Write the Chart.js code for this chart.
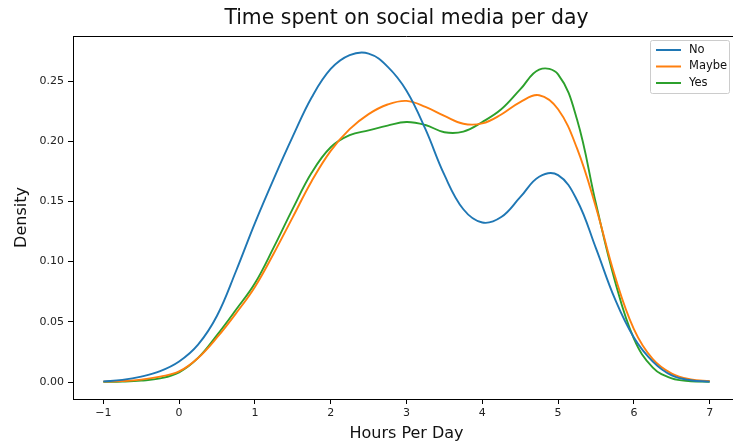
<!DOCTYPE html>
<html>
<head>
<meta charset="utf-8">
<script src="https://cdn.jsdelivr.net/npm/chart.js@4/dist/chart.umd.min.js"></script>
<style>
  html, body { margin: 0; padding: 0; background: #fff; overflow: hidden; }
  #wrap { width: 733px; height: 443px; overflow: hidden; position: relative; }
  #c { position: absolute; left: 0; top: 0; }
</style>
</head>
<body>
<div id="wrap"><canvas id="c" width="760" height="443"></canvas></div>
<script>
// Evaluation grid for the density curves (hours per day)
const hours = [-1, -0.75, -0.5, -0.25, 0, 0.25, 0.5, 0.75, 1, 1.25, 1.5, 1.75, 2, 2.25, 2.5, 2.75,
               3, 3.25, 3.5, 3.75, 4, 4.25, 4.5, 4.75, 5, 5.25, 5.5, 5.75, 6, 6.25, 6.5, 6.75, 7];

// Estimated density for each answer group
const densityNo = [0.0005, 0.0018, 0.0045, 0.009, 0.017, 0.031, 0.055, 0.092, 0.132, 0.169, 0.204, 0.2365, 0.260, 0.2715, 0.2728, 0.262,
                   0.242, 0.210, 0.172, 0.1435, 0.1325, 0.137, 0.1535, 0.1705, 0.1718, 0.151, 0.111, 0.069, 0.037, 0.017, 0.0055, 0.0015, 0.0003];
const densityMaybe = [0.0003, 0.0008, 0.002, 0.0045, 0.0088, 0.020, 0.037, 0.057, 0.079, 0.107, 0.137, 0.167, 0.192, 0.210, 0.2225, 0.2305,
                      0.2335, 0.2285, 0.221, 0.2145, 0.2148, 0.2222, 0.2325, 0.2382, 0.2265, 0.194, 0.145, 0.088, 0.044, 0.019, 0.007, 0.0022, 0.0008];
const densityYes = [0.0001, 0.0004, 0.0012, 0.003, 0.008, 0.020, 0.039, 0.060, 0.082, 0.112, 0.144, 0.174, 0.195, 0.205, 0.209, 0.213,
                    0.216, 0.2135, 0.2075, 0.208, 0.216, 0.2265, 0.243, 0.2595, 0.2555, 0.218, 0.148, 0.084, 0.036, 0.012, 0.003, 0.0007, 0.0002];

const seriesNames = ['No', 'Maybe', 'Yes'];
const xTicks = [-1, 0, 1, 2, 3, 4, 5, 6, 7];
const yTicks = [0, 0.05, 0.10, 0.15, 0.20, 0.25];

const colors = ['#1f77b4', '#ff7f0e', '#2ca02c'];
const FONT = "'DejaVu Sans', sans-serif";

function toPoints(ys) {
  return hours.map((h, i) => ({ x: h, y: ys[i] }));
}

// Title, top spine and the boxed legend in the upper right
const decorations = {
  id: 'decorations',
  afterDraw(chart) {
    const { ctx, chartArea: a } = chart;
    ctx.save();
    ctx.strokeStyle = '#000';
    ctx.lineWidth = 1;
    ctx.beginPath();
    ctx.moveTo(a.left, a.top + 0.5);
    ctx.lineTo(a.right, a.top + 0.5);
    ctx.stroke();

    ctx.fillStyle = '#111';
    ctx.font = '20.4px ' + FONT;
    ctx.textAlign = 'center';
    ctx.textBaseline = 'middle';
    ctx.fillText('Time spent on social media per day', (a.left + a.right) / 2, 19);

    // legend
    const bx = 650.5, by = 40.5, bw = 79, bh = 53;
    ctx.fillStyle = 'rgba(255,255,255,0.8)';
    ctx.strokeStyle = '#cccccc';
    ctx.lineWidth = 1;
    ctx.beginPath();
    if (ctx.roundRect) ctx.roundRect(bx, by, bw, bh, 2); else ctx.rect(bx, by, bw, bh);
    ctx.fill();
    ctx.stroke();
    ctx.font = '11.5px ' + FONT;
    ctx.textAlign = 'left';
    chart.data.datasets.forEach((ds, i) => {
      const yy = 50 + i * 16.5;
      ctx.strokeStyle = ds.borderColor;
      ctx.lineWidth = 2;
      ctx.beginPath();
      ctx.moveTo(656, yy);
      ctx.lineTo(681, yy);
      ctx.stroke();
      ctx.fillStyle = '#111';
      ctx.fillText(ds.label, 689, yy);
    });
    ctx.restore();
  }
};

new Chart(document.getElementById('c'), {
  type: 'line',
  data: {
    datasets: [densityNo, densityMaybe, densityYes].map((ys, i) => ({
      label: seriesNames[i],
      data: toPoints(ys),
      borderColor: colors[i],
      backgroundColor: colors[i],
      borderWidth: 1.9,
      pointRadius: 0,
      tension: 0.4,
      fill: false
    }))
  },
  options: {
    responsive: false,
    animation: false,
    layout: { padding: { top: 36, right: 20, left: 0, bottom: 0 } },
    plugins: {
      legend: { display: false },
      title: { display: false },
      tooltip: { enabled: false }
    },
    scales: {
      x: {
        type: 'linear',
        min: -1.4,
        max: 7.4,
        afterFit(s) { s.height = 44; },
        afterBuildTicks(s) { s.ticks = xTicks.map(v => ({ value: v })); },
        grid: { drawOnChartArea: false, drawTicks: true, tickLength: 5, color: '#000' },
        border: { display: true, color: '#000', width: 1 },
        ticks: {
          padding: 3,
          color: '#222',
          font: { family: FONT, size: 11 },
          maxRotation: 0,
          callback: v => (v < 0 ? '\u2212' + Math.abs(v) : String(v))
        },
        title: {
          display: true,
          text: 'Hours Per Day',
          color: '#111',
          font: { family: FONT, size: 16 },
          padding: { top: 0, bottom: 0 }
        }
      },
      y: {
        type: 'linear',
        min: -0.0141,
        max: 0.2874,
        afterFit(s) { s.width = 73; },
        afterBuildTicks(s) { s.ticks = yTicks.map(v => ({ value: v })); },
        grid: { drawOnChartArea: false, drawTicks: true, tickLength: 5, color: '#000' },
        border: { display: true, color: '#000', width: 1 },
        ticks: {
          padding: 4,
          color: '#222',
          font: { family: FONT, size: 11 },
          callback: v => Number(v).toFixed(2)
        },
        title: {
          display: true,
          text: 'Density',
          color: '#111',
          font: { family: FONT, size: 16 },
          padding: { top: 12, bottom: 0 }
        }
      }
    }
  },
  plugins: [decorations]
});
</script>
</body>
</html>
